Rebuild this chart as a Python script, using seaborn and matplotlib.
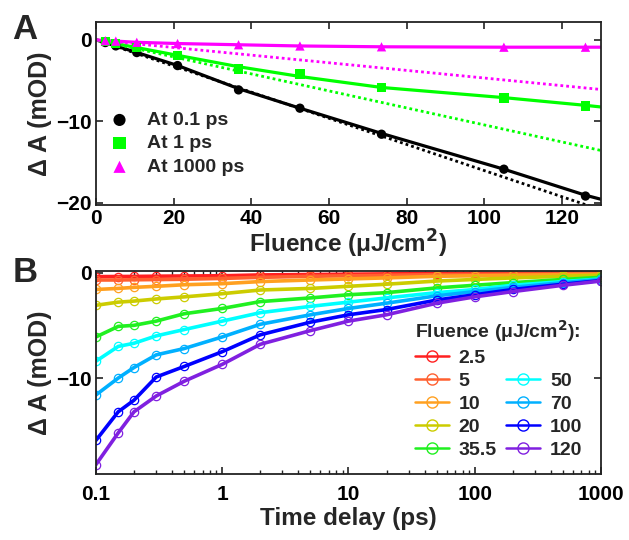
import numpy as np
import pandas as pd
import matplotlib
matplotlib.use('Agg')
import matplotlib.pyplot as plt
from matplotlib.lines import Line2D
import seaborn as sns

# Panel A: delta A vs fluence at three delays
fluence_a = [2.4, 5.1, 10.5, 21, 36.7, 52.5, 73.5, 105, 126]
at_01ps = [-0.33, -0.74, -1.56, -3.16, -6.15, -8.4, -11.6, -15.9, -19.2]
at_1ps = [-0.2, -0.45, -0.95, -1.93, -3.57, -4.18, -5.82, -7.13, -8.12]
at_1000ps = [-0.1, -0.15, -0.3, -0.45, -0.6, -0.75, -0.85, -0.9, -0.9]

# fit curves (solid), from 0 to the right edge
fit_x = [0] + fluence_a + [130]
fit_01ps = [0, -0.35, -0.75, -1.55, -3.15, -6.0, -8.4, -11.5, -15.9, -19.1, -19.6]
fit_1ps = [0, -0.2, -0.45, -0.95, -1.9, -3.3, -4.5, -5.85, -7.1, -8.05, -8.25]
fit_1000ps = [0, -0.1, -0.15, -0.3, -0.45, -0.6, -0.75, -0.85, -0.9, -0.9, -0.9]

# linear guides (dotted)
lin_x = [0, 130]
lin_01ps = [0, -20.9]
lin_1ps = [0, -13.6]
lin_1000ps = [0, -6.1]

# Panel B: kinetics for each fluence
delay = [0.1, 0.15, 0.2, 0.3, 0.5, 1, 2, 5, 10, 20, 50, 100, 200, 500, 1000]
fluence_labels = ['2.5', '5', '10', '20', '35.5', '50', '70', '100', '120']
kin_2_5 = [-0.38, -0.37, -0.36, -0.34, -0.32, -0.3, -0.22, -0.18, -0.15, -0.12, -0.1, -0.08, -0.07, -0.05, -0.05]
kin_5 = [-0.7, -0.7, -0.68, -0.66, -0.63, -0.55, -0.45, -0.35, -0.3, -0.25, -0.2, -0.17, -0.15, -0.12, -0.1]
kin_10 = [-1.6, -1.5, -1.4, -1.3, -1.15, -1.05, -0.85, -0.7, -0.6, -0.5, -0.35, -0.3, -0.25, -0.2, -0.15]
kin_20 = [-3.1, -2.8, -2.7, -2.5, -2.3, -2.0, -1.65, -1.5, -1.3, -1.1, -0.8, -0.65, -0.5, -0.35, -0.25]
kin_35_5 = [-6.1, -5.1, -5.0, -4.6, -3.9, -3.4, -2.75, -2.4, -2.1, -1.9, -1.45, -1.2, -0.95, -0.65, -0.45]
kin_50 = [-8.4, -7.0, -6.7, -6.0, -5.4, -4.6, -3.8, -3.2, -2.8, -2.4, -1.9, -1.6, -1.2, -0.85, -0.6]
kin_70 = [-11.6, -10.0, -9.0, -7.8, -7.2, -6.1, -4.9, -4.0, -3.4, -2.9, -2.2, -1.8, -1.4, -0.95, -0.65]
kin_100 = [-15.9, -13.2, -12.1, -9.9, -8.9, -7.5, -5.9, -4.7, -4.0, -3.5, -2.6, -2.1, -1.6, -1.1, -0.75]
kin_120 = [-18.2, -15.2, -13.2, -11.7, -10.3, -8.7, -6.8, -5.5, -4.6, -4.0, -2.9, -2.3, -1.8, -1.2, -0.8]
kinetics = [kin_2_5, kin_5, kin_10, kin_20, kin_35_5, kin_50, kin_70, kin_100, kin_120]
colors = ['#ff2020', '#ff6030', '#ffa020', '#cccc00', '#20f020',
          '#00ffff', '#00b0ff', '#0000ff', '#8020e0']

sns.set_theme(style='ticks')
plt.rcParams['font.family'] = ['Liberation Sans', 'DejaVu Sans']
plt.rcParams['font.weight'] = 'bold'
plt.rcParams['axes.labelweight'] = 'bold'
plt.rcParams['axes.edgecolor'] = '#222222'
plt.rcParams['axes.linewidth'] = 1.3
plt.rcParams['xtick.direction'] = 'in'
plt.rcParams['ytick.direction'] = 'in'
plt.rcParams['xtick.color'] = '#222222'
plt.rcParams['ytick.color'] = '#222222'
plt.rcParams['xtick.labelcolor'] = 'black'
plt.rcParams['ytick.labelcolor'] = 'black'

fig = plt.figure(figsize=(6.29, 5.40), dpi=100)
ax_a = fig.add_axes([0.1526, 0.6204, 0.8029, 0.3389])
ax_b = fig.add_axes([0.1526, 0.1222, 0.8029, 0.3759])

# ---- Panel A ----
for fx, fy, lx, ly, px, py, c, m, lab in [
        (fit_x, fit_01ps, lin_x, lin_01ps, fluence_a, at_01ps, 'black', 'o', 'At 0.1 ps'),
        (fit_x, fit_1ps, lin_x, lin_1ps, fluence_a, at_1ps, '#00ff00', 's', 'At 1 ps'),
        (fit_x, fit_1000ps, lin_x, lin_1000ps, fluence_a, at_1000ps, '#ff00ff', '^', 'At 1000 ps')]:
    sns.lineplot(x=lx, y=ly, ax=ax_a, color=c, lw=2.0, linestyle=(0, (1, 1.1)), legend=False)
    sns.lineplot(x=fx, y=fy, ax=ax_a, color=c, lw=2.3, legend=False, sort=False)
    sns.scatterplot(x=px, y=py, ax=ax_a, color=c, marker=m, s=45, edgecolor='none', label=lab, zorder=5)

ax_a.set_xlim(0, 130)
ax_a.set_ylim(-20.3, 2.2)
ax_a.set_xticks([0, 20, 40, 60, 80, 100, 120])
ax_a.set_yticks([0, -10, -20])
ax_a.set_xlabel('Fluence (μJ/cm$^\\mathbf{2}$)', fontsize=17.5, labelpad=0)
ax_a.set_ylabel('Δ A (mOD)', fontsize=18, labelpad=3)
ax_a.tick_params(axis='both', labelsize=15, length=5, width=1.2, top=True, right=True, pad=3)
ax_a.legend(loc='upper left', bbox_to_anchor=(-0.015, 0.575), frameon=False,
            handletextpad=0.4, labelspacing=0.3, borderaxespad=0.2, markerscale=1.3,
            prop={'weight': 'bold', 'size': 14})

# ---- Panel B ----
rows = []
for lab, vals in zip(fluence_labels, kinetics):
    for t, v in zip(delay, vals):
        rows.append({'delay': t, 'dA': v, 'fluence': lab})
df_b = pd.DataFrame(rows)
palette = dict(zip(fluence_labels, colors))

sns.lineplot(data=df_b, x='delay', y='dA', hue='fluence', hue_order=fluence_labels,
             palette=palette, ax=ax_b, lw=2.6, marker='o', markersize=6,
             markerfacecolor='none', markeredgewidth=0.9, legend=False)
for line, c in zip(ax_b.lines, colors):
    line.set_markeredgecolor(c)

ax_b.set_xscale('log')
ax_b.set_xlim(0.1, 1000)
ax_b.set_ylim(-19.1, 0.15)
ax_b.set_xticks([0.1, 1, 10, 100, 1000])
ax_b.set_xticklabels(['0.1', '1', '10', '100', '1000'])
ax_b.set_yticks([0, -10])
ax_b.set_xlabel('Time delay (ps)', fontsize=17.5, labelpad=2)
ax_b.set_ylabel('Δ A (mOD)', fontsize=18, labelpad=3)
ax_b.tick_params(axis='both', which='major', labelsize=15, length=5, width=1.2,
                 top=True, right=True, pad=8)
ax_b.tick_params(axis='y', pad=3)
ax_b.tick_params(axis='x', which='minor', length=3, width=1.0, top=True)

handles = [Line2D([], [], color=c, lw=1.8, marker='o', markersize=8,
                  markerfacecolor='none', markeredgewidth=1.0) for c in colors]
dummy = Line2D([], [], color='none')
leg_handles = handles[:5] + [dummy] + handles[5:]
leg_labels = fluence_labels[:5] + [''] + fluence_labels[5:]
leg = ax_b.legend(leg_handles, leg_labels, ncol=2, loc='upper left',
                  bbox_to_anchor=(0.631, 0.77), frameon=False,
                  title='Fluence (μJ/cm$^\\mathbf{2}$):', alignment='left',
                  prop={'weight': 'bold', 'size': 14}, handlelength=1.75,
                  handletextpad=0.5, columnspacing=0.5, labelspacing=0.28,
                  borderaxespad=0.0, borderpad=0.0)
leg.get_title().set_fontsize(14)
leg.get_title().set_fontweight('bold')

fig.text(0.02, 0.928, 'A', fontsize=25, fontweight='bold')
fig.text(0.02, 0.478, 'B', fontsize=25, fontweight='bold')

fig.savefig('out.png', dpi=100)
